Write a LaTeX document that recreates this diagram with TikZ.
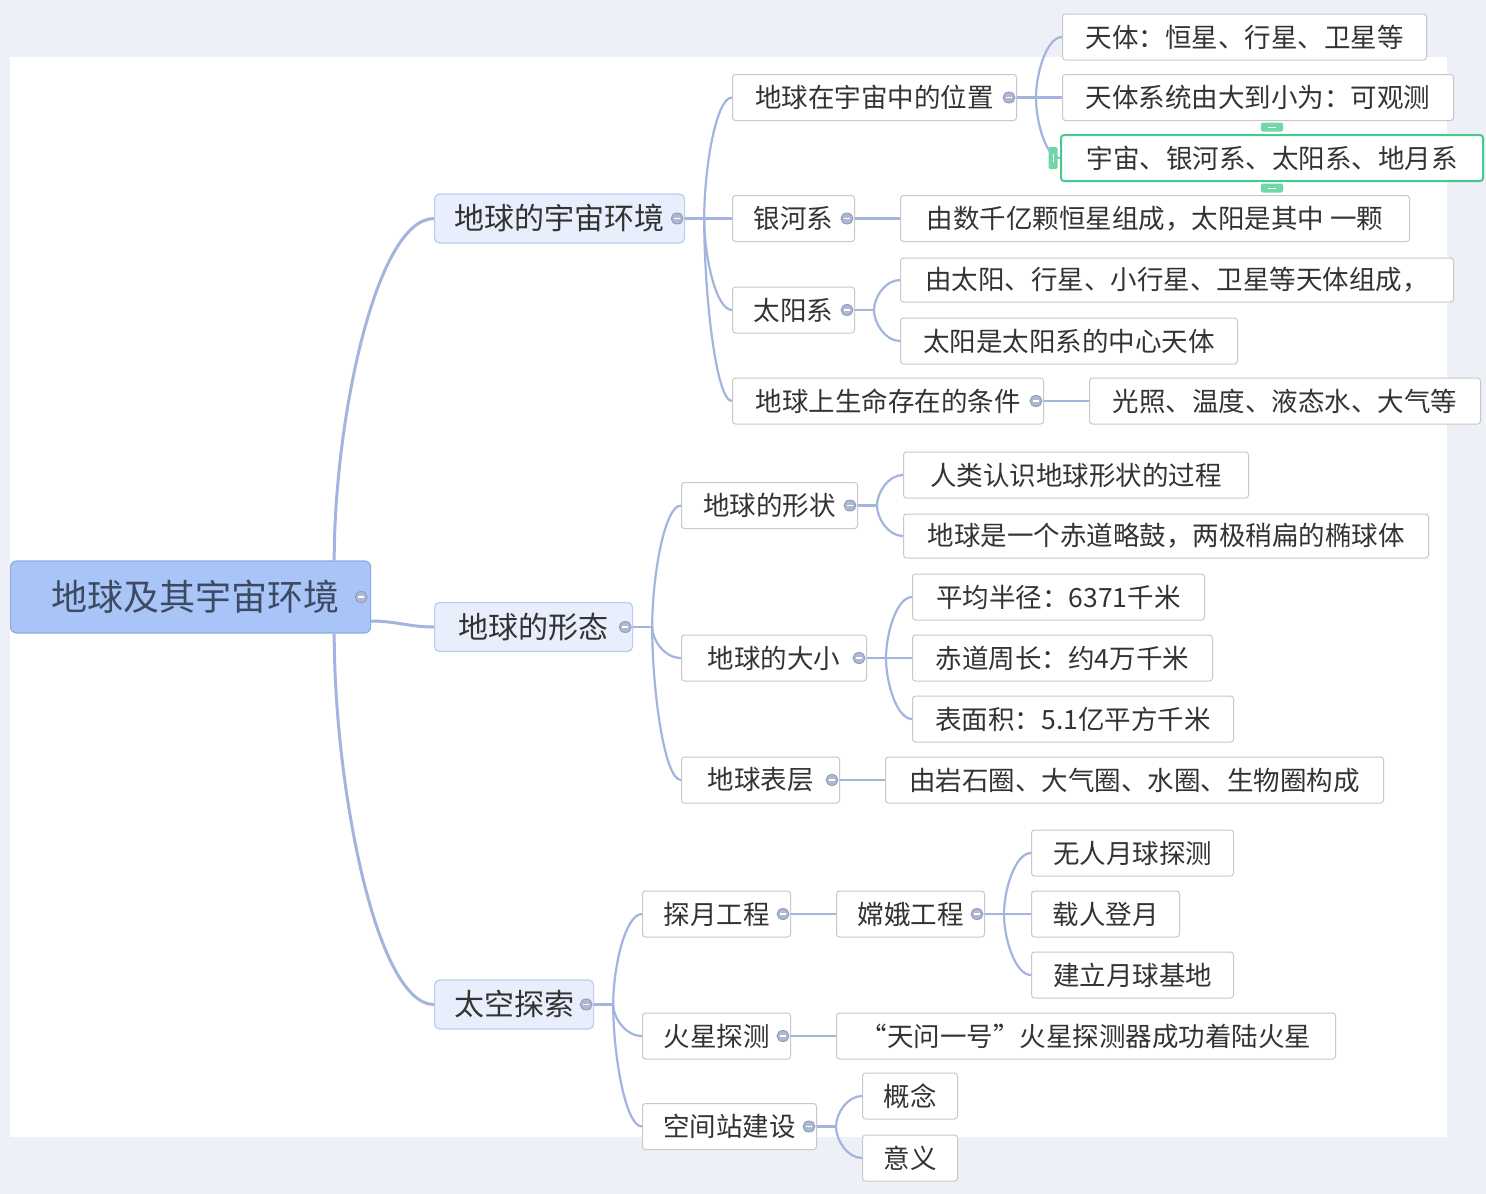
\documentclass[tikz,border=0pt]{standalone}
\usepackage{fontspec}
\newfontfamily\cjk{Noto Sans CJK SC}
\usetikzlibrary{calc}
\definecolor{bgout}{HTML}{EEF0F7}
\definecolor{rootfill}{HTML}{A9C4F6}
\definecolor{rootline}{HTML}{8EA9E2}
\definecolor{roottext}{HTML}{3D4A63}
\definecolor{topfill}{HTML}{E8EEFC}
\definecolor{topline}{HTML}{BCCBEE}
\definecolor{boxline}{HTML}{C8C8C8}
\definecolor{linkcol}{HTML}{A3B5DF}
\definecolor{foldfill}{HTML}{AEB8D0}
\definecolor{foldline}{HTML}{8E9BBB}
\definecolor{selgreen}{HTML}{44C98E}
\definecolor{txt}{HTML}{333333}

\begin{document}
\begin{tikzpicture}[x=1pt,y=-1pt,
  rootbox/.style={draw=rootline, fill=rootfill, line width=1.2pt, rounded corners=6pt,
    anchor=west, inner xsep=0pt, minimum height=72pt, text=roottext,
    font=\cjk\fontsize{36pt}{40pt}\selectfont},
  topic/.style={draw=topline, fill=topfill, line width=1.2pt, rounded corners=5pt,
    anchor=west, inner xsep=0pt, minimum height=49pt, text=txt,
    font=\cjk\fontsize{30pt}{34pt}\selectfont},
  sub/.style={draw=boxline, fill=white, line width=1pt, rounded corners=3pt,
    anchor=west, inner xsep=0pt, minimum height=46pt, text=txt,
    font=\cjk\fontsize{26.5pt}{30pt}\selectfont},
  trunk/.style={draw=linkcol, line width=3pt},
  link/.style={draw=linkcol, line width=2.2pt},
  curl/.style={to path={.. controls ($(\tikztostart)!0.41!(\tikztostart |- \tikztotarget)$)
    and ($(\tikztotarget)!0.58!(\tikztostart |- \tikztotarget)$) .. (\tikztotarget)}}]
  \useasboundingbox (0,0) rectangle (1486,1194);
  \fill[bgout] (0,0) rectangle (1486,1194);
  \fill[white] (10,57) rectangle (1447,1137);

  % root and main topics
  \node[rootbox, minimum width=360pt] (root) at (10,597) {\hspace*{10pt}地球及其宇宙环境};
  \node[topic, minimum width=250pt] (cos) at (434,218.5) {地球的宇宙环境};
  \node[topic, minimum width=198pt] (form) at (434,627) {地球的形态};
  \node[topic, minimum width=159pt] (space) at (434,1004.5) {太空探索};

  % subtopics
  \node[sub, minimum width=284pt] (pos) at (732,97.5) {地球在宇宙中的位置};
  \node[sub, minimum width=122pt] (milky) at (732,218.5) {银河系};
  \node[sub, minimum width=122pt] (solar) at (732,310) {太阳系};
  \node[sub, minimum width=311pt] (life) at (732,401) {地球上生命存在的条件};
  \node[sub, minimum width=176pt] (shape) at (681,505.5) {地球的形状};
  \node[sub, minimum width=185pt] (size) at (681,658) {地球的大小};
  \node[sub, minimum width=158pt] (surf) at (681,780) {地球表层};
  \node[sub, minimum width=148pt] (moon) at (642,914) {探月工程};
  \node[sub, minimum width=148pt] (mars) at (642,1036) {火星探测};
  \node[sub, minimum width=174pt] (station) at (642,1126.5) {空间站建设};

  % details
  \node[sub, minimum width=364pt] (t1) at (1062,37) {天体：恒星、行星、卫星等};
  \node[sub, minimum width=391pt] (t2) at (1062,97.5) {天体系统由大到小为：可观测};
  \node[sub, minimum width=422pt, draw=selgreen, line width=2pt] (t3) at (1060,158) {宇宙、银河系、太阳系、地月系};
  \node[sub, minimum width=509pt] (m1) at (900,218.5) {由数千亿颗恒星组成，太阳是其中 一颗};
  \node[sub, minimum width=553pt, minimum height=44pt] (s1) at (900,280) {由太阳、行星、小行星、卫星等天体组成，};
  \node[sub, minimum width=337pt] (s2) at (900,341) {太阳是太阳系的中心天体};
  \node[sub, minimum width=391pt] (l1) at (1089,401) {光照、温度、液态水、大气等};
  \node[sub, minimum width=345pt] (sh1) at (903,475) {人类认识地球形状的过程};
  \node[sub, minimum width=525pt, minimum height=44pt] (sh2) at (903,536) {地球是一个赤道略鼓，两极稍扁的椭球体};
  \node[sub, minimum width=292pt] (z1) at (912,597) {平均半径：6371千米};
  \node[sub, minimum width=300pt] (z2) at (912,658) {赤道周长：约4万千米};
  \node[sub, minimum width=321pt] (z3) at (912,719) {表面积：5.1亿平方千米};
  \node[sub, minimum width=498pt] (su1) at (885,780) {由岩石圈、大气圈、水圈、生物圈构成};
  \node[sub, minimum width=148pt] (ce) at (836,914) {嫦娥工程};
  \node[sub, minimum width=202pt] (ce1) at (1031,853) {无人月球探测};
  \node[sub, minimum width=148pt] (ce2) at (1031,914) {载人登月};
  \node[sub, minimum width=202pt] (ce3) at (1031,975) {建立月球基地};
  \node[sub, minimum width=499pt] (ma1) at (836,1036) {“天问一号”火星探测器成功着陆火星};
  \node[sub, minimum width=95pt] (g1) at (862,1096) {概念};
  \node[sub, minimum width=95pt] (g2) at (862,1158) {意义};

  % trunk lines from the root
  \coordinate (r-up) at ([xshift=-37pt]root.north east);
  \coordinate (r-mid) at ([yshift=-24pt]root.east);
  \coordinate (r-dn) at ([xshift=-37pt]root.south east);
  \draw[trunk] (r-up) to[curl] (cos.west);
  \draw[trunk] (r-mid) to[out=0,in=180] (form.west);
  \draw[trunk] (r-dn) to[curl] (space.west);

  % branch lines
  \foreach \p in {cos,pos,solar,form,shape,size,space,ce,station}
    \draw[link] (\p.east) -- ++(19pt,0) coordinate (\p-s);
  \foreach \p/\c in {cos/pos,cos/solar,cos/life,pos/t1,pos/t3,solar/s1,solar/s2,
      form/shape,form/size,form/surf,shape/sh1,shape/sh2,size/z1,size/z3,
      space/moon,space/mars,space/station,ce/ce1,ce/ce3,station/g1,station/g2}
    \draw[link] (\p-s) to[curl] (\c.west);
  \foreach \p/\c in {cos/milky,pos/t2,milky/m1,life/l1,size/z2,surf/su1,
      moon/ce,ce/ce2,mars/ma1}
    \draw[link] (\p.east) -- (\c.west);

  % fold markers
  \foreach \n/\d in {root/10,cos/8,form/8,space/8,pos/8,milky/8,solar/8,life/8,
      shape/8,size/8,surf/8,moon/8,mars/8,station/8,ce/8} {
    \draw[foldline, fill=foldfill, line width=0.9pt] ([xshift=-\d pt]\n.east) ellipse (6pt and 5.5pt);
    \draw[white, line width=1.5pt] ([xshift=-\d pt]\n.east) +(-3.2pt,0) -- +(3.2pt,0);
  }

  % selection handles
  \foreach \a/\w/\h/\o in {north/11/4.5/7,south/11/4.5/-6} {
    \fill[selgreen!75, rounded corners=2pt] ([yshift=\o pt]t3.\a) +(-\w pt,-\h pt) rectangle +(\w pt,\h pt);
    \draw[white, line width=1pt] ([yshift=\o pt]t3.\a) +(-4pt,0) -- +(4pt,0);
  }
  \fill[selgreen!75, rounded corners=2pt] ([xshift=-7pt]t3.west) +(-4.5pt,-11pt) rectangle +(4.5pt,11pt);
  \draw[white, line width=1pt] ([xshift=-7pt]t3.west) +(0,-4pt) -- +(0,4pt);
\end{tikzpicture}
\end{document}
